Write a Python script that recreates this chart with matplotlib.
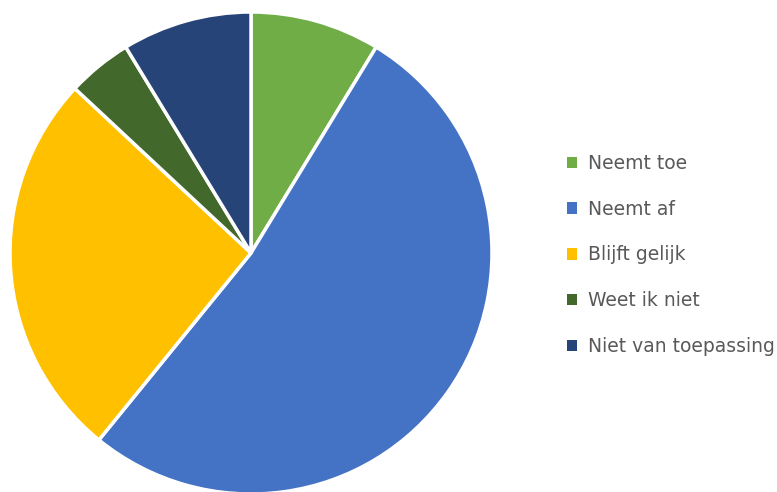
import matplotlib.pyplot as plt
from matplotlib.patches import Patch

# Data
labels = ['Neemt toe', 'Neemt af', 'Blijft gelijk', 'Weet ik niet', 'Niet van toepassing']
values = [2, 12, 6, 1, 2]
colors = ['#70AD47', '#4472C4', '#FFC000', '#43682B', '#264478']

fig = plt.figure(figsize=(7.77, 4.92), dpi=100)

# Pie axes (center ~ (251, 253) px, radius ~241 px)
cx, cy, r = 251, 253, 241
W, H = 777, 492
ax = fig.add_axes([(cx - r) / W, (H - cy - r) / H, 2 * r / W, 2 * r / H])
ax.pie(values, colors=colors, startangle=90, counterclock=False,
       wedgeprops=dict(edgecolor='white', linewidth=2.5), radius=1.0)
ax.set_xlim(-1.0, 1.0)
ax.set_ylim(-1.0, 1.0)
ax.set_aspect('equal')
ax.axis('off')

# Legend
handles = [Patch(facecolor=c, edgecolor='none') for c in colors]
leg = fig.legend(handles, labels, loc='center left', bbox_to_anchor=(550 / W, (H - 255) / H),
                 frameon=False, fontsize=13.5, labelspacing=1.43,
                 handlelength=0.55, handleheight=0.55, handletextpad=0.55, labelcolor='#595959')

fig.savefig('out.png', dpi=100)
